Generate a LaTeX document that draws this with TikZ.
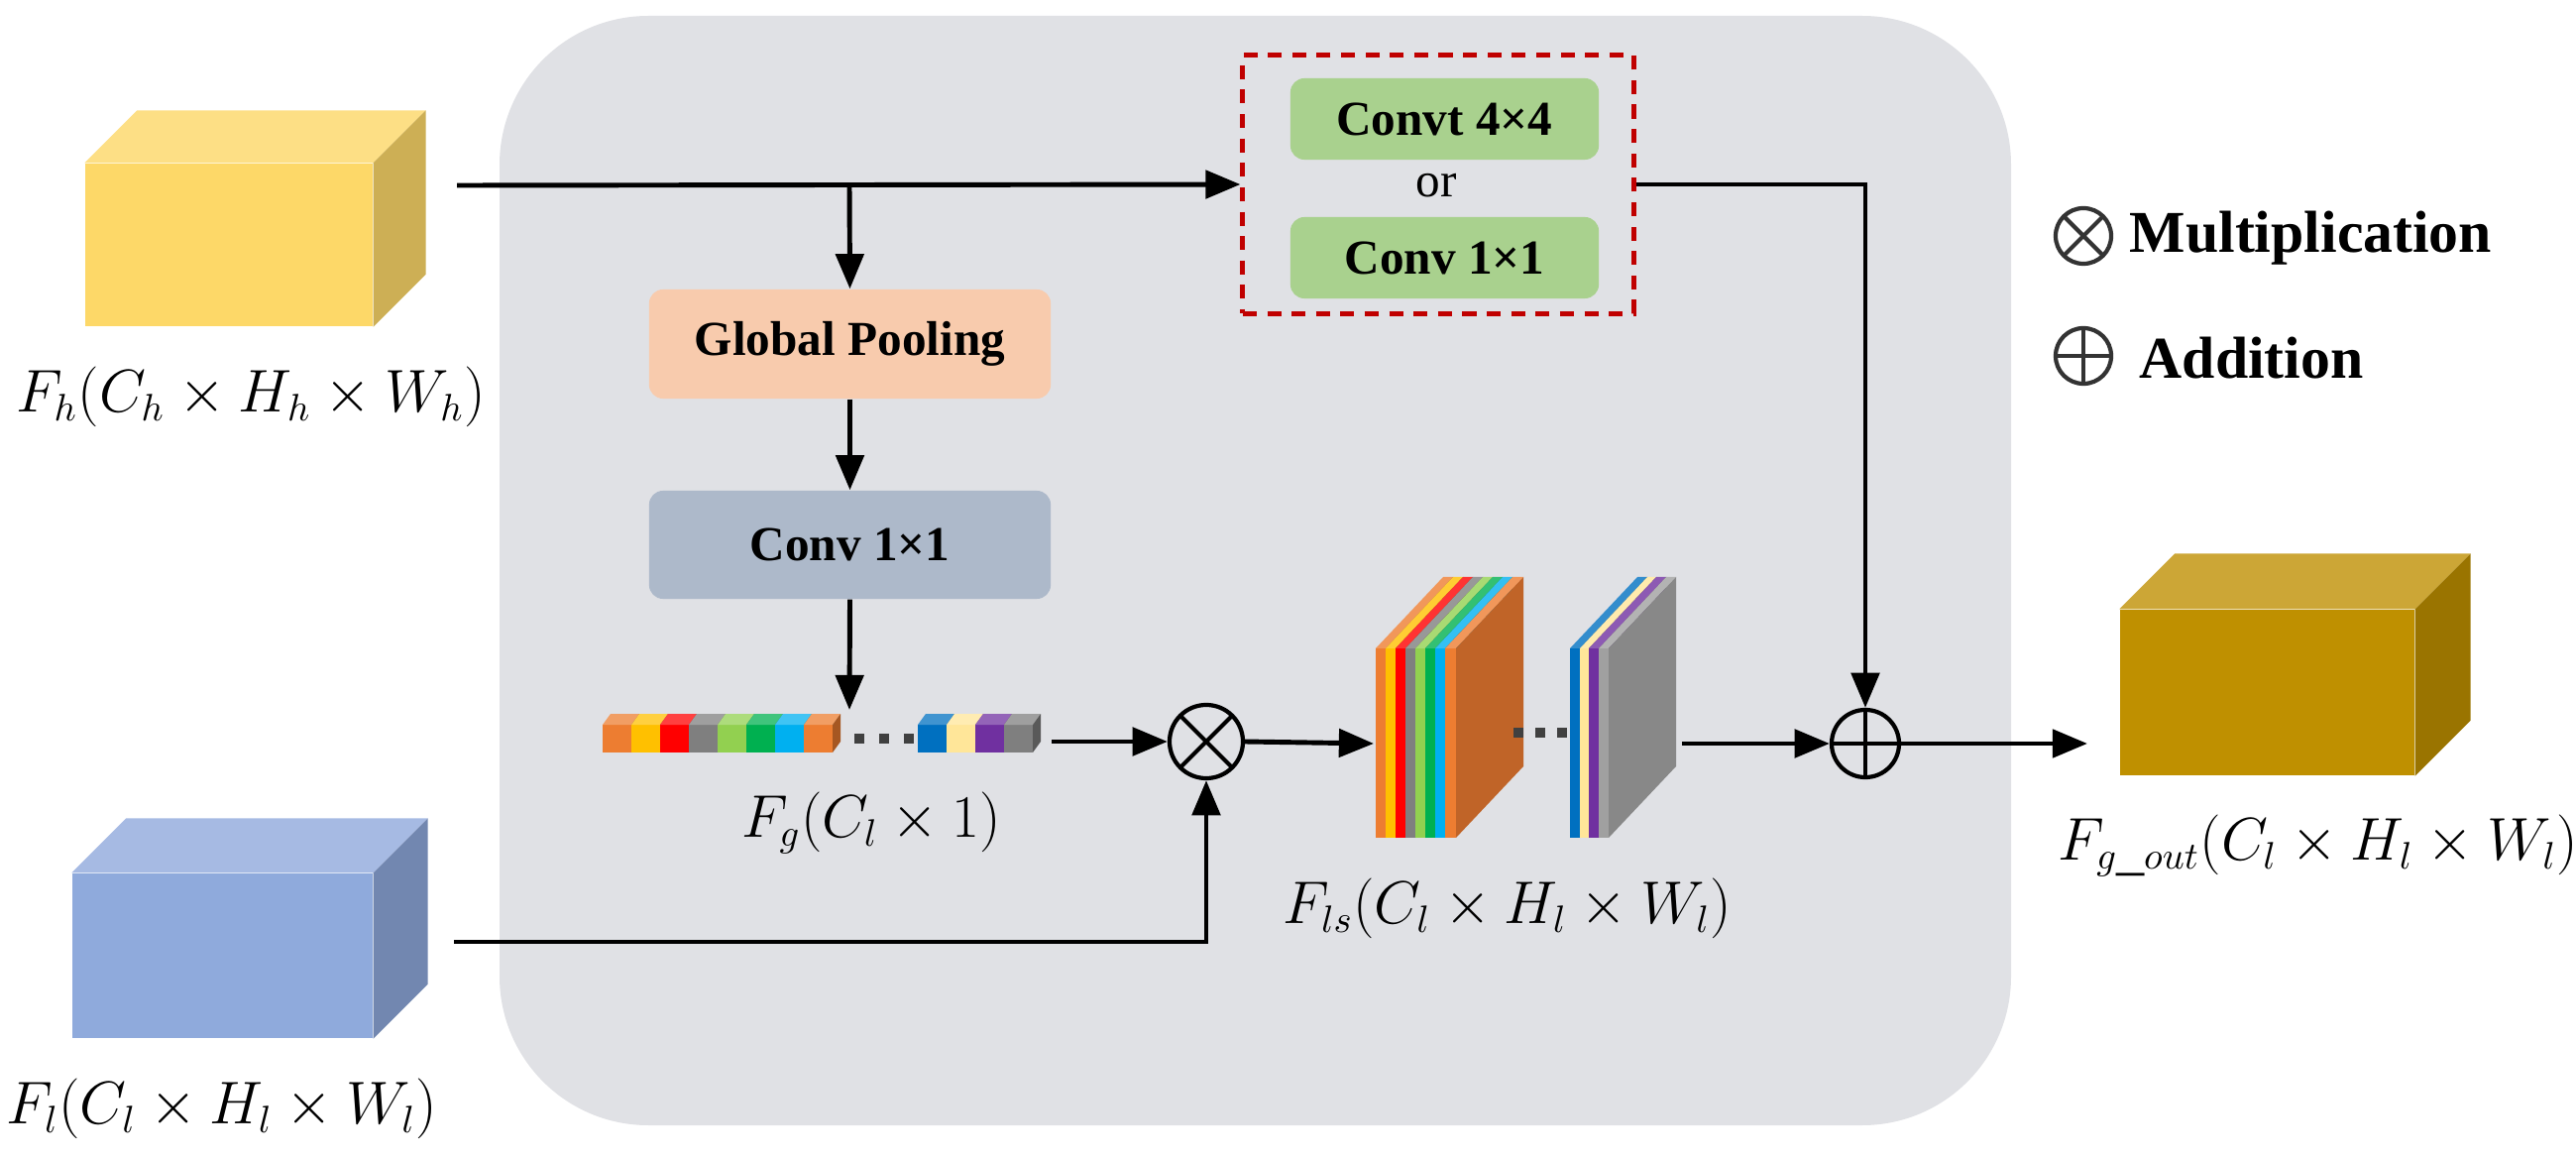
\documentclass[tikz,border=0pt]{standalone}
\usepackage{fontspec}
\setmainfont{Liberation Serif}
\usetikzlibrary{arrows.meta,calc}
\begin{document}
\begin{tikzpicture}[x=0.01cm,y=-0.01cm,
  arr/.style={line width=1.4pt,-{Triangle[length=10pt,width=8pt]}},
  box/.style={rounded corners=4pt,inner sep=0pt,font=\bfseries\fontsize{14}{16}\selectfont},
  lab/.style={font=\fontsize{16}{18}\selectfont,inner sep=0pt},
  opmul/.style={circle,draw,line width=1.2pt,minimum size=#1,inner sep=0pt,
    path picture={\draw[line width=1.2pt] (path picture bounding box.north west)--(path picture bounding box.south east)
      (path picture bounding box.north east)--(path picture bounding box.south west);}},
  opadd/.style={circle,draw,line width=1.2pt,minimum size=#1,inner sep=0pt,
    path picture={\draw[line width=1.2pt] (path picture bounding box.north)--(path picture bounding box.south)
      (path picture bounding box.east)--(path picture bounding box.west);}},
]
\definecolor{bg}{RGB}{224,225,229}
\definecolor{gpc}{RGB}{248,203,173}\definecolor{cvc}{RGB}{173,185,202}
\definecolor{grc}{RGB}{169,209,142}\definecolor{rbc}{RGB}{192,0,0}
\definecolor{brown}{RGB}{192,100,40}\definecolor{gfront}{RGB}{160,160,160}\definecolor{gside}{RGB}{136,136,136}
\useasboundingbox (0,0) rectangle (2599,1167);
% background
\fill[rounded corners=1.5cm,fill=bg] (504,16) rectangle (2029,1135);

% cube macro
\newcommand{\mycube}[9]{% name, cx, cy, w, h, front, top, side, depth
  \node[name=#1,fill=#6,minimum width=#4*0.01cm,minimum height=#5*0.01cm,inner sep=0pt,draw=none] at (#2,#3) {};
  \fill[#7] (#1.north west) -- ++(#9,-#9) -- ($(#1.north east)+(#9,-#9)$) -- (#1.north east) -- cycle;
  \fill[#8] (#1.north east) -- ++(#9,-#9) -- ($(#1.south east)+(#9,-#9)$) -- (#1.south east) -- cycle;
}
\definecolor{yfront}{HTML}{FDD868}\definecolor{ytop}{HTML}{FDDF85}\definecolor{yside}{HTML}{CDAF55}
\definecolor{bfront}{HTML}{8FAADC}\definecolor{btop}{HTML}{A6BAE3}\definecolor{bside}{HTML}{7287B0}
\definecolor{ofront}{HTML}{BF9000}\definecolor{otop}{HTML}{CCA636}\definecolor{oside}{HTML}{9A7400}
\mycube{fh}{231}{247}{290}{164}{yfront}{ytop}{yside}{53}
\mycube{fl}{224.5}{964}{303}{166}{bfront}{btop}{bside}{55}
\mycube{out}{2287.5}{698.5}{297}{167}{ofront}{otop}{oside}{56}

\node[lab] (fhl) at (253,400) {$F_h(C_h\times H_h\times W_h)$};
\node[lab] (fll) at (224,1118) {$F_l(C_l\times H_l\times W_l)$};
\node[lab] (outl) at (2339,853) {$F_{g\_out}(C_l\times H_l\times W_l)$};
\node[lab] (fgl) at (879,830) {$F_g(C_l\times 1)$};
\node[lab] (flsl) at (1521,916) {$F_{ls}(C_l\times H_l\times W_l)$};

% boxes
\node[box,fill=gpc,minimum width=4.05cm,minimum height=1.1cm] (gp) at (857.5,347) {Global Pooling};
\node[box,fill=cvc,minimum width=4.05cm,minimum height=1.09cm] (cv) at (857.5,549.5) {Conv 1×1};
\node[draw=rbc,dash pattern=on 4pt off 3pt,line width=1.4pt,minimum width=3.94cm,minimum height=2.6cm,inner sep=0pt] (rb) at (1451,186) {};
\node[box,fill=grc,minimum width=3.11cm,minimum height=0.82cm] (g1) at (1457.5,120) {Convt 4×4};
\node[font=\fontsize{14}{16}\selectfont,inner sep=0pt] (or) at (1449,187) {or};
\node[box,fill=grc,minimum width=3.11cm,minimum height=0.82cm] (g2) at (1457.5,260) {Conv 1×1};

% color bar
\newcommand{\cell}[2]{\fill[#2] (#1,731) rectangle ++(29,28);
  \fill[#2!75!white] (#1,731) -- ++(8,-11) -- ++(29,0) -- ++(-8,11) -- cycle;
  \fill[#2!70!black] (#1+29,731) -- ++(8,-11) -- ++(0,28) -- ++(-8,11) -- cycle;}
\definecolor{c1}{HTML}{ED7D31}\definecolor{c2}{HTML}{FFC000}\definecolor{c3}{HTML}{FF0000}
\definecolor{c4}{HTML}{7F7F7F}\definecolor{c5}{HTML}{92D050}\definecolor{c6}{HTML}{00B050}
\definecolor{c7}{HTML}{00B0F0}\definecolor{c8}{HTML}{0070C0}\definecolor{c9}{HTML}{FFE699}
\definecolor{c10}{HTML}{7030A0}
\cell{608}{c1}\cell{637}{c2}\cell{666}{c3}\cell{695}{c4}\cell{724}{c5}\cell{753}{c6}\cell{782}{c7}\cell{811}{c1}
\foreach \x in {862,887,912} \fill[black!75] (\x,740) rectangle ++(10,10);
\cell{926}{c8}\cell{955}{c9}\cell{984}{c10}\cell{1013}{c4}
\coordinate (bartop) at (857,716);
\coordinate (barR) at (1061,748);

% plates
\newcommand{\plate}[4]{% x, width, color, side color
  \fill[#3] (#1,654) rectangle ++(#2,191);
  \fill[#3!80!white] (#1,654) -- ++(68,-72) -- ++(#2,0) -- ++(-68,72) -- cycle;
  \fill[#4] (#1+#2,654) -- ++(68,-72) -- ++(0,191) -- ++(-68,72) -- cycle;}
\plate{1388}{10}{c1}{c1!70!black}\plate{1398}{10}{c2}{c2!70!black}\plate{1408}{10}{c3}{c3!70!black}
\plate{1418}{10}{c4}{c4!70!black}\plate{1428}{10}{c5}{c5!70!black}\plate{1438}{10}{c6}{c6!70!black}
\plate{1448}{10}{c7}{c7!70!black}\plate{1458}{11}{c1}{brown}
\foreach \x in {1527,1549,1571} \fill[black!75] (\x,734) rectangle ++(10,10);
\plate{1584}{10}{c8}{c8!70!black}\plate{1594}{9}{c9}{c9!70!black}\plate{1603}{10}{c10}{c10!70!black}
\plate{1613}{10}{gfront}{gside}
\coordinate (pl1in) at (1386,750);
\coordinate (pl2out) at (1697,750);

% operators
\node[opmul=0.74cm] (mul) at (1217,748) {};
\node[opadd=0.68cm] (add) at (1882,750) {};

% connectors
\coordinate (fhout) at (461,187);
\coordinate (br) at (857,187);
\coordinate (flout) at (458,950);
\coordinate (outin) at (2106,750);
\draw[arr] (fhout) -- (rb.west);
\draw[arr] (br) -- (gp.north);
\draw[arr] (gp.south) -- (cv.north);
\draw[arr] (cv.south) -- (bartop);
\draw[arr] (barR) -- (mul.west);
\draw[arr] (flout) -| (mul.south);
\draw[arr] (mul.east) -- (pl1in);
\draw[arr] (pl2out) -- (add.west);
\draw[arr] (rb.east) -| (add.north);
\draw[arr] (add.east) -- (outin);

% legend
\node[opmul=0.56cm,draw=black!80] (lm) at (2102,238) {};
\node[anchor=west,font=\bfseries\fontsize{17}{19}\selectfont,inner sep=0pt] (lmt) at (2148,240) {Multiplication};
\node[opadd=0.56cm,draw=black!80] (la) at (2102,359) {};
\node[anchor=west,font=\bfseries\fontsize{17}{19}\selectfont,inner sep=0pt] (lat) at (2158,361) {Addition};
\end{tikzpicture}
\end{document}
